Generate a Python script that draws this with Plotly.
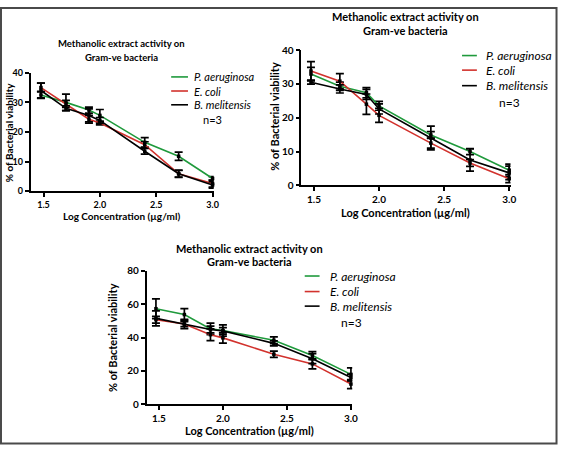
import plotly.graph_objects as go

# ---------------- data ----------------
log_conc = [1.477, 1.699, 1.903, 2.0, 2.398, 2.699, 3.0]
series_names = ["P. aeruginosa", "E. coli", "B. melitensis"]
series_colors = ["#1f9a3c", "#d2322d", "#000000"]

# panel A (top-left)
pa_A = [32.5, 30.0, 27.4, 25.6, 16.5, 11.8, 4.3]
pa_A_err = [1.2, 2.8, 1.0, 2.0, 1.6, 1.4, 0.6]
ec_A = [35.0, 29.5, 24.3, 23.0, 15.7, 5.9, 2.6]
ec_A_err = [1.5, 1.2, 1.3, 0.6, 1.0, 1.1, 1.2]
bm_A = [34.0, 28.0, 25.6, 23.9, 13.5, 5.9, 2.1]
bm_A_err = [2.5, 0.8, 2.2, 1.0, 1.0, 1.2, 1.1]

# panel B (top-right)
pa_B = [32.9, 29.3, 27.4, 23.5, 14.9, 10.0, 4.5]
pa_B_err = [2.0, 1.2, 1.5, 1.3, 1.0, 0.9, 1.8]
ec_B = [33.8, 30.8, 24.0, 20.7, 12.5, 6.6, 2.0]
ec_B_err = [2.8, 2.2, 3.0, 2.1, 1.5, 1.0, 1.2]
bm_B = [30.5, 28.5, 26.9, 22.6, 14.0, 7.5, 3.7]
bm_B_err = [0.6, 1.2, 1.5, 1.5, 3.5, 3.3, 2.0]

# panel C (bottom)
pa_C = [57.3, 53.8, 45.2, 44.2, 38.4, 29.2, 17.9]
pa_C_err = [5.9, 3.5, 3.5, 3.4, 2.0, 2.4, 3.9]
ec_C = [50.7, 48.1, 41.7, 39.8, 30.0, 24.2, 12.1]
ec_C_err = [2.0, 1.5, 3.5, 3.2, 1.9, 3.0, 2.7]
bm_C = [51.5, 48.1, 44.8, 44.0, 36.5, 27.3, 16.0]
bm_C_err = [4.5, 2.8, 2.0, 2.0, 1.5, 3.0, 2.0]

x_ticks = [1.5, 2.0, 2.5, 3.0]
x_ticklabels = ["1.5", "2.0", "2.5", "3.0"]
title_lines = ["Methanolic extract activity on", "Gram-ve bacteria"]
x_title = "Log Concentration (µg/ml)"
y_title = "% of Bacterial viability"
n_label = "n=3"

W, H = 564, 451
FONT = "Lato"

panels = [
    dict(vals=[(pa_A, pa_A_err), (ec_A, ec_A_err), (bm_A, bm_A_err)],
         px=(31, 216), py=(189.7, 67.7), xr=(1.386, 3.01), yr=(0, 40), dy=10,
         title_xy=(123, 38, 52), tsize=9.5, xt_xy=(123, 215), xtsize=10,
         yt_xy=(9, 129), ticksize=9, leg=(173, 190, 194, [72, 86.5, 100.7], 203, 116), legsize=11),
    dict(vals=[(pa_B, pa_B_err), (ec_B, ec_B_err), (bm_B, bm_B_err)],
         px=(304.7, 516), py=(183.7, 44.3), xr=(1.404, 3.01), yr=(0, 40), dy=10,
         title_xy=(410, 10, 24), tsize=11, xt_xy=(410, 212), xtsize=11,
         yt_xy=(278, 113), ticksize=10, leg=(467, 482, 489, [50, 65, 81], 502, 98), legsize=12),
    dict(vals=[(pa_C, pa_C_err), (ec_C, ec_C_err), (bm_C, bm_C_err)],
         px=(148.3, 356), py=(409, 271.7), xr=(1.405, 3.01), yr=(0, 80), dy=20,
         title_xy=(252, 249, 262), tsize=11, xt_xy=(252, 436), xtsize=11,
         yt_xy=(113, 340), ticksize=10, leg=(308, 323, 332, [277, 293, 308], 343, 325), legsize=12),
]

fig = go.Figure()
annotations = []
shapes = []

def px2x(p):
    return p / W

def py2y(p):
    return 1 - p / H

for i, P in enumerate(panels):
    sfx = "" if i == 0 else str(i + 1)
    xa = "x" + sfx
    ya = "y" + sfx
    for (vals, errs), name, col in zip(P["vals"], series_names, series_colors):
        fig.add_trace(go.Scatter(
            x=log_conc, y=vals, mode="lines+markers", name=name,
            line=dict(color=col, width=1.6),
            marker=dict(symbol="square", size=3.5, color="black"),
            error_y=dict(type="data", array=errs, visible=True, color="black",
                         thickness=1.7, width=4),
            xaxis=xa, yaxis=ya, showlegend=False, cliponaxis=False,
        ))
    axis_common = dict(showline=True, linecolor="black", linewidth=1.6,
                       ticks="outside", ticklen=4, tickwidth=1.5, tickcolor="black",
                       showgrid=False, zeroline=False,
                       tickfont=dict(family=FONT, size=P["ticksize"], color="black", weight="bold"))
    fig.update_layout(**{
        "xaxis" + sfx: dict(domain=[px2x(P["px"][0]), px2x(P["px"][1])], range=list(P["xr"]),
                            anchor=ya, tickvals=x_ticks, ticktext=x_ticklabels, **axis_common),
        "yaxis" + sfx: dict(domain=[py2y(P["py"][0]), py2y(P["py"][1])], range=list(P["yr"]),
                            anchor=xa, dtick=P["dy"], tick0=0, **axis_common),
    })
    tx, ty1, ty2 = P["title_xy"]
    for line, ty in zip(title_lines, (ty1, ty2)):
        annotations.append(dict(x=px2x(tx), y=py2y(ty), xref="paper", yref="paper",
                                text="<b>%s</b>" % line, showarrow=False,
                                font=dict(family=FONT, size=P["tsize"], color="black"),
                                xanchor="center", yanchor="middle"))
    annotations.append(dict(x=px2x(P["xt_xy"][0]), y=py2y(P["xt_xy"][1]), xref="paper", yref="paper",
                            text="<b>%s</b>" % x_title, showarrow=False,
                            font=dict(family=FONT, size=P["xtsize"], color="black"),
                            xanchor="center", yanchor="middle"))
    annotations.append(dict(x=px2x(P["yt_xy"][0]), y=py2y(P["yt_xy"][1]), xref="paper", yref="paper",
                            text="<b>%s</b>" % y_title, showarrow=False, textangle=-90,
                            font=dict(family=FONT, size=P["xtsize"], color="black"),
                            xanchor="center", yanchor="middle"))
    lx0, lx1, ltx, lys, nx, ny = P["leg"]
    for name, col, ly in zip(series_names, series_colors, lys):
        shapes.append(dict(type="line", xref="paper", yref="paper",
                           x0=px2x(lx0), x1=px2x(lx1), y0=py2y(ly), y1=py2y(ly),
                           line=dict(color=col, width=1.6)))
        annotations.append(dict(x=px2x(ltx), y=py2y(ly), xref="paper", yref="paper",
                                text="<i>%s</i>" % name, showarrow=False,
                                font=dict(family=FONT, size=P["legsize"], color="black"),
                                xanchor="left", yanchor="middle"))
    annotations.append(dict(x=px2x(nx), y=py2y(ny), xref="paper", yref="paper",
                            text=n_label, showarrow=False,
                            font=dict(family=FONT, size=P["legsize"], color="black"),
                            xanchor="left", yanchor="middle"))

# outer frame
shapes.append(dict(type="rect", xref="paper", yref="paper",
                   x0=1 / W, x1=562.5 / W, y0=1 - 449.5 / H, y1=1 - 1 / H,
                   line=dict(color="#4a4a4a", width=2), fillcolor="rgba(0,0,0,0)"))

fig.update_layout(width=W, height=H, margin=dict(l=0, r=0, t=0, b=0),
                  paper_bgcolor="white", plot_bgcolor="white",
                  annotations=annotations, shapes=shapes, showlegend=False)

fig.write_html("out.html")
